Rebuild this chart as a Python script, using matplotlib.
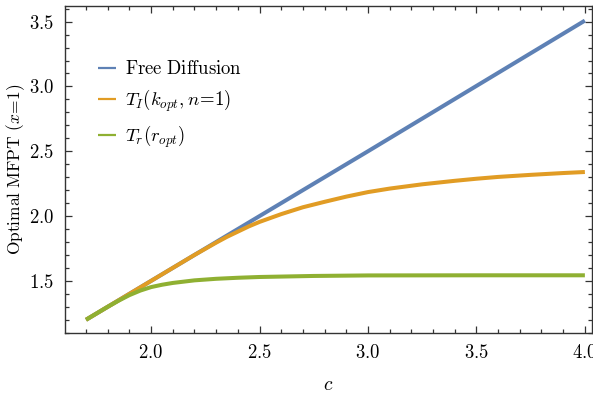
import matplotlib
matplotlib.use("Agg")
import matplotlib.pyplot as plt
from matplotlib.ticker import MultipleLocator, FuncFormatter

# values
c_free = [1.7, 2.5, 3.0, 4.0]
t_free = [1.2, 2.0, 2.5, 3.508]

c_ti = [1.7, 1.9, 2.1, 2.2, 2.3, 2.35, 2.4, 2.45, 2.5, 2.6, 2.7, 2.8, 2.9, 3.0,
        3.1, 3.25, 3.4, 3.5, 3.6, 3.75, 3.9, 4.0]
t_ti = [1.2, 1.4, 1.6, 1.70, 1.795, 1.84, 1.88, 1.92, 1.955, 2.015, 2.068, 2.11,
        2.15, 2.185, 2.212, 2.245, 2.272, 2.288, 2.302, 2.318, 2.332, 2.34]

c_tr = [1.7, 1.8, 1.85, 1.9, 1.95, 2.0, 2.05, 2.1, 2.2, 2.3, 2.4, 2.5, 2.75,
        3.0, 3.5, 4.0]
t_tr = [1.2, 1.3, 1.347, 1.39, 1.425, 1.452, 1.47, 1.484, 1.504, 1.516, 1.524,
        1.53, 1.538, 1.542, 1.543, 1.543]

plt.rcParams['mathtext.fontset'] = 'cm'
plt.rcParams['font.family'] = 'serif'
plt.rcParams['axes.unicode_minus'] = False

fig = plt.figure(figsize=(5.93, 3.96), dpi=100)
ax = fig.add_axes([0.1096, 0.1598, 0.8884, 0.8258])

lw = 2.9
ax.plot(c_free, t_free, color='#5E81B5', lw=lw, label=r'$\mathrm{Free\ Diffusion}$',
        solid_capstyle='butt')
ax.plot(c_ti, t_ti, color='#E19C24', lw=lw, label=r'$T_I(k_{opt},n\!=\!1)$',
        solid_capstyle='butt')
ax.plot(c_tr, t_tr, color='#8FB032', lw=lw, label=r'$T_r(r_{opt})$',
        solid_capstyle='butt')

ax.set_xlim(1.603, 4.032)
ax.set_ylim(1.10, 3.623)

ax.xaxis.set_major_locator(MultipleLocator(0.5))
ax.xaxis.set_minor_locator(MultipleLocator(0.1))
ax.yaxis.set_major_locator(MultipleLocator(0.5))
ax.yaxis.set_minor_locator(MultipleLocator(0.1))
fmt = FuncFormatter(lambda v, p: r'$%.1f$' % v)
ax.xaxis.set_major_formatter(fmt)
ax.yaxis.set_major_formatter(fmt)
ax.tick_params(which='both', direction='in', top=True, right=True,
               labelsize=13.5, color='#333333', width=0.9)
ax.tick_params(which='major', length=5, pad=8)
ax.tick_params(which='minor', length=3)
for s in ax.spines.values():
    s.set_color('#333333')
    s.set_linewidth(1.0)

ax.set_xlabel(r'$c$', fontsize=14, labelpad=10)
ax.set_ylabel(r'$\mathrm{Optimal\ MFPT}\ (x\!=\!1)$', fontsize=12.5, labelpad=1)

leg = ax.legend(loc='upper left', bbox_to_anchor=(0.055, 0.845), frameon=False,
                fontsize=13.5, handlelength=1.0, handletextpad=0.45,
                labelspacing=0.5, borderaxespad=0, borderpad=0.2)
for h in leg.get_lines():
    h.set_linewidth(1.6)

fig.savefig('out.png', dpi=100)
